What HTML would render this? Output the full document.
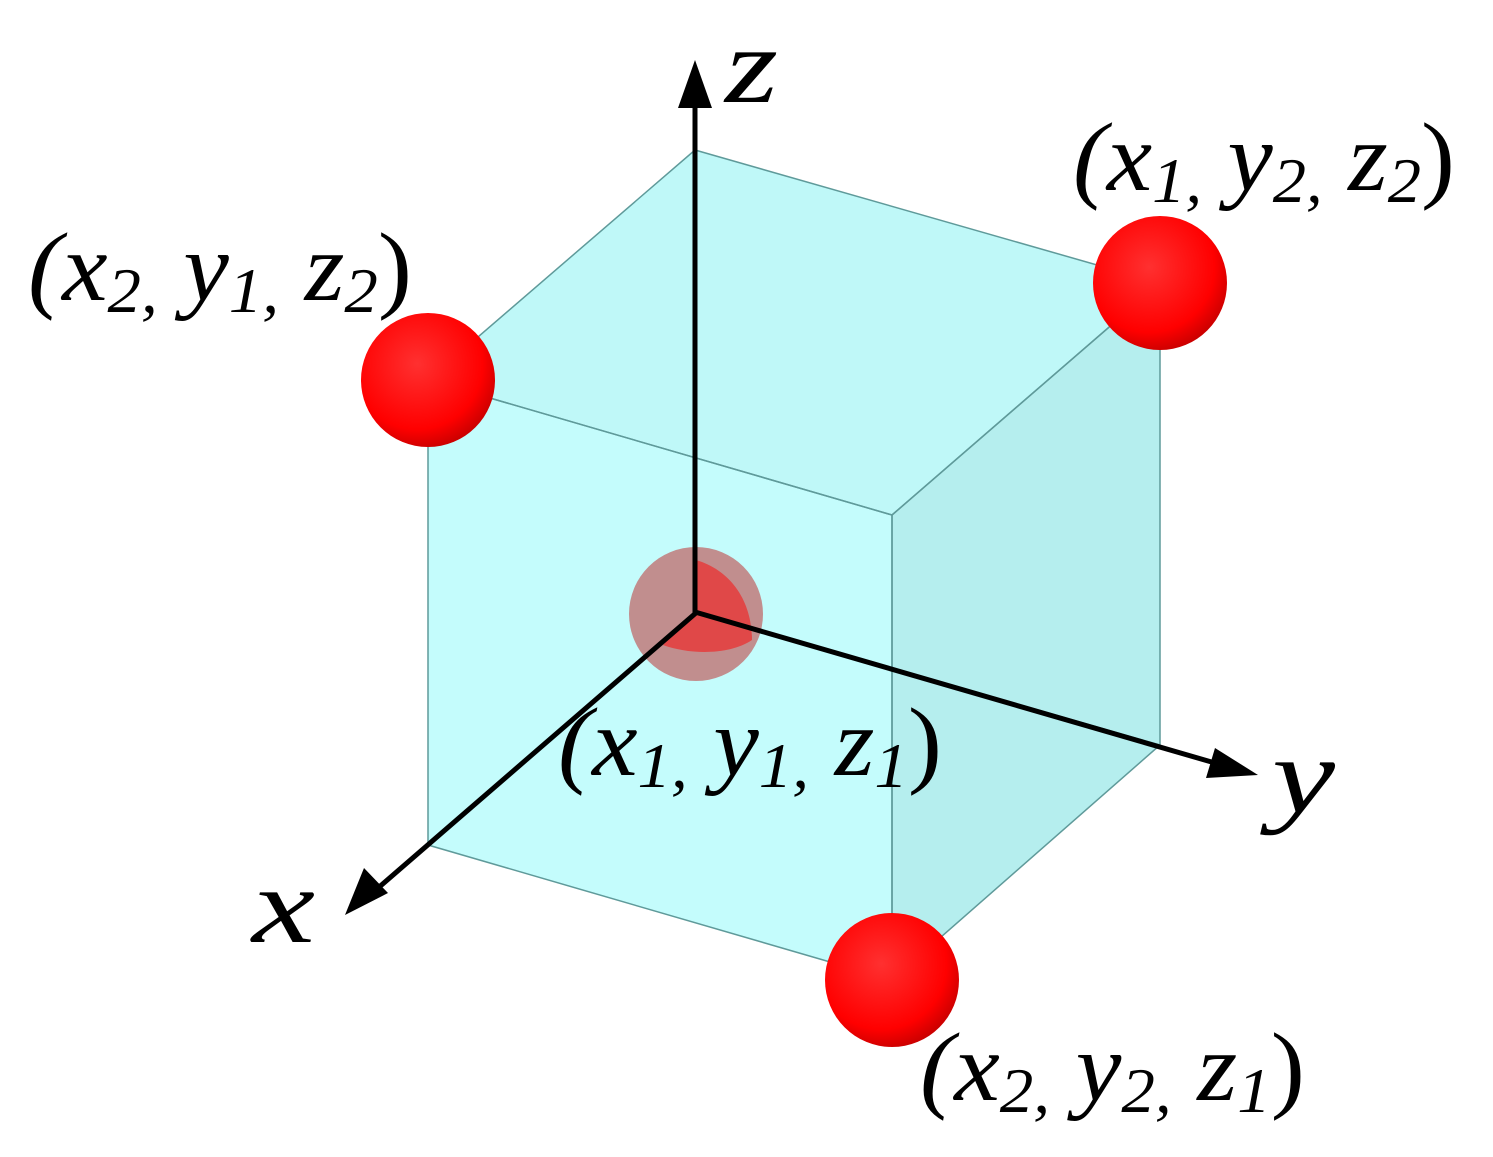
<!DOCTYPE html>
<html><head><style>
html,body{margin:0;padding:0;background:#fff;}
svg{display:block;}
text{font-family:"Liberation Serif","Times New Roman",serif;font-style:italic;fill:#000;}
</style></head><body>
<svg width="1493" height="1157" viewBox="0 0 1493 1157" xmlns="http://www.w3.org/2000/svg">
<defs>
<radialGradient id="rg" cx="0.42" cy="0.38" r="0.65">
<stop offset="0" stop-color="#ff3030"/>
<stop offset="0.75" stop-color="#ff0000"/>
<stop offset="1" stop-color="#c80000"/>
</radialGradient>
</defs>
<polygon points="428,380 892,515 892,980 428,845" fill="#c4fcfc"/>
<polygon points="892,515 1160,283 1160,745 892,980" fill="#b5eeee"/>
<polygon points="695,150 1160,283 892,515 428,380" fill="#bff8f8"/>
<g stroke="#5f9a9a" stroke-width="1.5" fill="none">
<polygon points="428,380 892,515 892,980 428,845"/>
<polygon points="892,515 1160,283 1160,745 892,980"/>
<polygon points="695,150 1160,283 892,515 428,380"/>
<line x1="695" y1="612" x2="1160" y2="745"/>
<line x1="695" y1="612" x2="428" y2="845"/>
<line x1="695" y1="612" x2="695" y2="150"/>
</g>
<circle cx="696" cy="614" r="67" fill="#c06060" opacity="0.7"/>
<path d="M696,612 L696,560 C730,570 752,600 752,640 C730,655 690,655 663,645 Z" fill="#e04848"/>
<g stroke="#000" stroke-width="5" fill="none">
<line x1="695" y1="614" x2="695" y2="105"/>
<line x1="695" y1="612" x2="1215" y2="763"/>
<line x1="697" y1="612" x2="378" y2="888"/>
</g>
<polygon points="695,60 678,108 712,108" fill="#000"/>
<polygon points="1258,775 1206,778 1215,748" fill="#000"/>
<polygon points="345,915 364,868 388,893" fill="#000"/>
<circle cx="428" cy="380" r="67" fill="url(#rg)"/>
<circle cx="1160" cy="283" r="67" fill="url(#rg)"/>
<circle cx="892" cy="980" r="67" fill="url(#rg)"/>
<text x="725" y="102" font-size="108" textLength="53" lengthAdjust="spacingAndGlyphs">z</text>
<text x="1272" y="812" font-size="108" textLength="63" lengthAdjust="spacingAndGlyphs">y</text>
<text x="252" y="942" font-size="108" textLength="63" lengthAdjust="spacingAndGlyphs">x</text>
<text x="1073" y="190" font-size="98" textLength="382" lengthAdjust="spacingAndGlyphs">(x<tspan font-size="64" dy="12">1,</tspan><tspan dy="-12"> y</tspan><tspan font-size="64" dy="12">2,</tspan><tspan dy="-12"> z</tspan><tspan font-size="64" dy="12">2</tspan><tspan dy="-12" font-style="normal">)</tspan></text>
<text x="28" y="300" font-size="98" textLength="384" lengthAdjust="spacingAndGlyphs">(x<tspan font-size="64" dy="12">2,</tspan><tspan dy="-12"> y</tspan><tspan font-size="64" dy="12">1,</tspan><tspan dy="-12"> z</tspan><tspan font-size="64" dy="12">2</tspan><tspan dy="-12" font-style="normal">)</tspan></text>
<text x="558" y="775" font-size="98" textLength="384" lengthAdjust="spacingAndGlyphs">(x<tspan font-size="64" dy="12">1,</tspan><tspan dy="-12"> y</tspan><tspan font-size="64" dy="12">1,</tspan><tspan dy="-12"> z</tspan><tspan font-size="64" dy="12">1</tspan><tspan dy="-12" font-style="normal">)</tspan></text>
<text x="920" y="1100" font-size="98" textLength="385" lengthAdjust="spacingAndGlyphs">(x<tspan font-size="64" dy="12">2,</tspan><tspan dy="-12"> y</tspan><tspan font-size="64" dy="12">2,</tspan><tspan dy="-12"> z</tspan><tspan font-size="64" dy="12">1</tspan><tspan dy="-12" font-style="normal">)</tspan></text>
</svg>
</body></html>
